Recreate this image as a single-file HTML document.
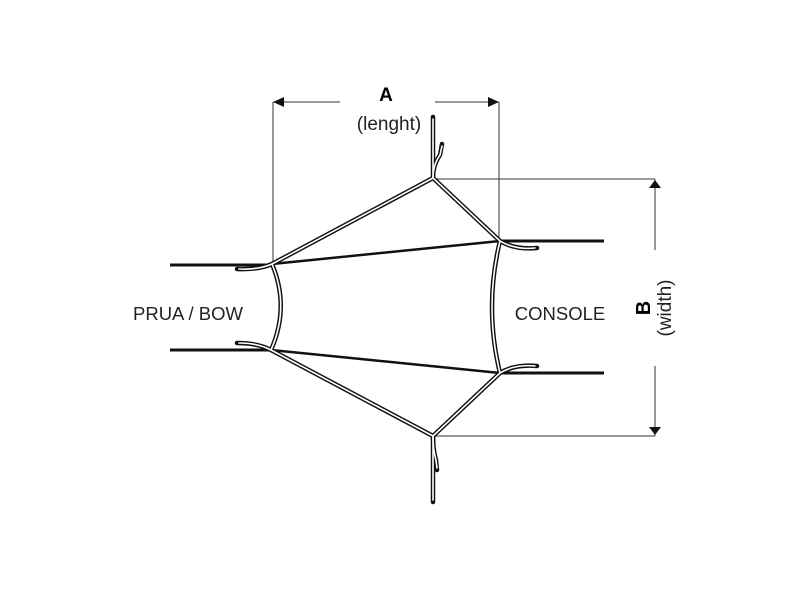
<!DOCTYPE html>
<html><head><style>body{margin:0;background:#fff}svg{display:block}</style></head><body>
<svg width="800" height="600" viewBox="0 0 800 600" xmlns="http://www.w3.org/2000/svg" font-family="Liberation Sans, sans-serif">
<rect width="800" height="600" fill="#fff"/>
<g stroke="#333" stroke-width="1" fill="none">
<line x1="273" y1="102" x2="340" y2="102"/><line x1="435" y1="102" x2="499" y2="102"/>
<line x1="273" y1="102" x2="273" y2="264"/><line x1="499" y1="102" x2="499" y2="241"/>
<line x1="433" y1="179" x2="655" y2="179"/><line x1="433" y1="436" x2="655" y2="436"/>
<line x1="655" y1="179" x2="655" y2="250"/><line x1="655" y1="366" x2="655" y2="436"/>
</g>
<g fill="#111">
<polygon points="273,102 284,97 284,107"/><polygon points="499,102 488,97 488,107"/>
<polygon points="655,180 649,188 661,188"/><polygon points="655,435 649,427 661,427"/>
</g>
<g stroke="#111" stroke-width="3" fill="none">
<line x1="170" y1="265" x2="270" y2="265"/><line x1="170" y1="350" x2="270" y2="350"/>
<line x1="500" y1="241" x2="604" y2="241"/><line x1="500" y1="373" x2="604" y2="373"/>
<line x1="272" y1="264" x2="500" y2="241" stroke-width="2.5"/>
<line x1="271" y1="350" x2="500" y2="373" stroke-width="2.5"/>
</g>
<g fill="none" stroke-linecap="round" stroke-linejoin="round">
<g stroke="#111" stroke-width="4.5">
<path d="M433 117 L433 178 L272 264 M433 178 L500 241 M433 502 L433 436 L271 350 M433 436 L500 373"/>
<path d="M272 264 Q290 307 271 350"/><path d="M500 241 Q484 307 500 373"/>
<path d="M272 264 Q258 270 237 269 M271 350 Q258 343 237 343 M500 241 Q515 250 537 248 M500 373 Q515 364 537 366 M433 178 Q433 165 440 155 L442 144 M433 436 Q433 450 436 460 L437 470"/>
</g>
<g stroke="#fff" stroke-width="1.6">
<path d="M433 119 L433 178 L272 264 M433 178 L500 241 M433 500 L433 436 L271 350 M433 436 L500 373"/>
<path d="M272 264 Q290 307 271 350"/><path d="M500 241 Q484 307 500 373"/>
<path d="M272 264 Q258 270 239 269 M271 350 Q258 343 239 343 M500 241 Q515 250 535 248 M500 373 Q515 364 535 366 M433 178 Q433 165 440 155 L442 146 M433 436 Q433 450 436 460 L437 468"/>
</g>
</g>
<text x="386" y="101" font-size="19" font-weight="bold" text-anchor="middle">A</text>
<text x="389" y="130" font-size="19" text-anchor="middle" fill="#222">(lenght)</text>
<text x="188" y="320" font-size="18.5" text-anchor="middle" fill="#222">PRUA / BOW</text>
<text x="560" y="320" font-size="18.5" text-anchor="middle" fill="#222">CONSOLE</text>
<text transform="translate(650,308) rotate(-90)" font-size="20" font-weight="bold" text-anchor="middle">B</text>
<text transform="translate(671,308) rotate(-90)" font-size="19" text-anchor="middle" fill="#222">(width)</text>
</svg>
</body></html>
